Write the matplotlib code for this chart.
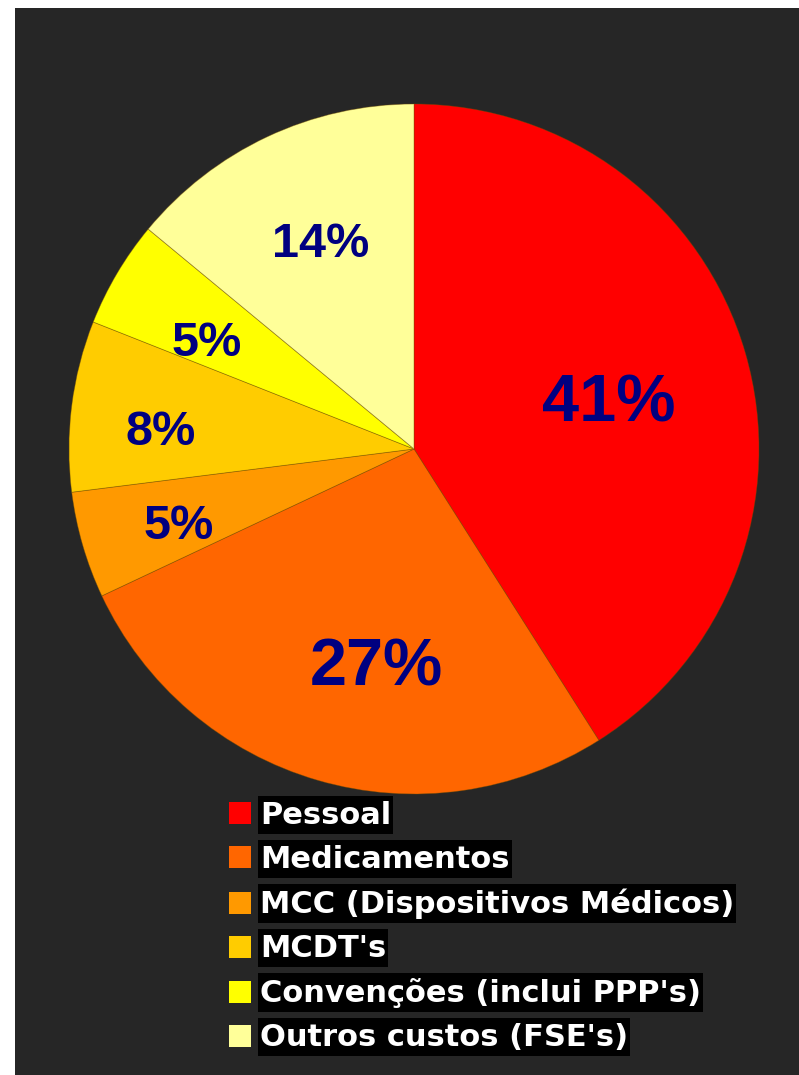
import matplotlib
matplotlib.use("Agg")
import matplotlib.pyplot as plt
from matplotlib.patches import Rectangle, Patch
import numpy as np

categories = ["Pessoal", "Medicamentos", "MCC (Dispositivos Médicos)",
              "MCDT's", "Convenções (inclui PPP's)", "Outros custos (FSE's)"]
shares = [41, 27, 5, 8, 5, 14]
colors = ["#FF0000", "#FF6600", "#FF9900", "#FFCC00", "#FFFF00", "#FFFF99"]

# percentage label placement: radius fraction, angular nudge (deg), font size
label_dist = [0.583, 0.627, 0.715, 0.738, 0.68, 0.665]
label_turn = [-1.5, 6.1, 1.0, 2.4, 2.6, -1.2]
label_size = [48, 48, 35, 35, 35, 35]

W, H = 799, 1075
fig = plt.figure(figsize=(W / 100, H / 100), dpi=100, facecolor="white")
fig.patches.append(Rectangle((15 / W, 0), (W - 15) / W, (H - 8) / H,
                             transform=fig.transFigure, facecolor="#262626",
                             edgecolor="none", zorder=-10))

cx, cy, r = 414, 449, 345
ax = fig.add_axes([(cx - r) / W, 1 - (cy + r) / H, 2 * r / W, 2 * r / H])
ax.set_facecolor("none")
wedges, _ = ax.pie(shares, colors=colors, startangle=90, counterclock=False,
                   wedgeprops=dict(edgecolor=(0.45, 0.3, 0.0, 0.45), linewidth=0.6))
ax.set_xlim(-1, 1)
ax.set_ylim(-1, 1)
ax.set_aspect("equal")
ax.axis("off")

for w, v, d, turn, fs in zip(wedges, shares, label_dist, label_turn, label_size):
    ang = np.deg2rad((w.theta1 + w.theta2) / 2 + turn)
    ax.text(d * np.cos(ang), d * np.sin(ang), f"{v}%", ha="center",
            va="center_baseline", fontsize=fs, fontweight="bold", color="#000080",
            family=["Liberation Sans", "DejaVu Sans"])

handles = [Patch(facecolor=c, edgecolor="none") for c in colors]
leg = fig.legend(handles, categories, loc="upper left",
                 bbox_to_anchor=(229 / W, 1 - 801 / H), frameon=False,
                 handlelength=0.72, handleheight=0.72, handletextpad=0.3,
                 labelspacing=0.49, borderpad=0, borderaxespad=0,
                 prop=dict(family="DejaVu Sans", weight="bold", size=22))
for t in leg.get_texts():
    t.set_color("white")
    t.set_zorder(3)

# black label backgrounds, tight at the sides and roomier above/below
fig.canvas.draw()
for t in leg.get_texts():
    e = t.get_window_extent()
    fig.patches.append(Rectangle((e.x0 - 2, e.y0 - 4), e.width + 4, e.height + 9,
                                 transform=None, facecolor="black",
                                 edgecolor="none", zorder=-5))

fig.savefig("out.png", dpi=100, facecolor="white")
